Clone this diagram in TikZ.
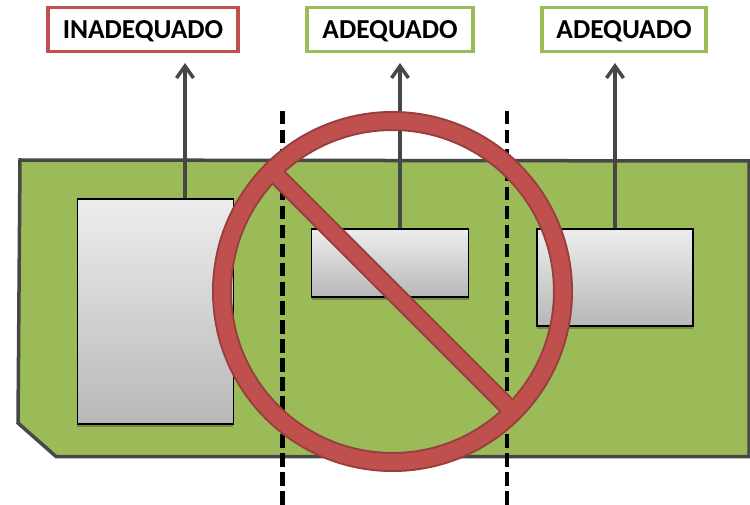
\documentclass[tikz,border=0pt]{standalone}
\usepackage{fontspec}
\setmainfont{Carlito}
\usetikzlibrary{arrows.meta,shadows}

\begin{document}
\begin{tikzpicture}[x=1pt, y=-1pt,
  every node/.style = {shape=rectangle, align=center, inner sep=0pt},
  tag/.style = {fill=white, line width=3.5pt, minimum height=44pt, text depth=0pt,
    font=\fontsize{27.4}{27.4}\selectfont\bfseries},
  chip/.style = {draw=black, line width=1.2pt,
    top color=black!7, bottom color=black!28,
    drop shadow={shadow xshift=0pt, shadow yshift=-2.5pt, opacity=.25, fill=black}},
  lead/.style = {draw=black!72, line width=3.5pt,
    -{Straight Barb[length=12pt, width=17pt, line width=3.5pt]}},
  cut/.style = {draw=black, line width=4.5pt, dash pattern=on 13.5pt off 5.5pt}]
  \definecolor{tagred}{HTML}{C0504D}
  \definecolor{taggreen}{HTML}{9BBB59}
  \definecolor{signedge}{HTML}{983F3D}
  \useasboundingbox (0,0) rectangle (750,505);

  % board
  \draw[fill=taggreen, draw=black!72, line width=3.5pt]
    (20,160) -- (749,161) -- (749,456.5) -- (56,456.5) -- (18,423) -- cycle;

  % labels
  \node[tag, draw=tagred, minimum width=190pt] (inad) at (143,29.5) {INADEQUADO};
  \node[tag, draw=taggreen, minimum width=166pt] (adeqa) at (390,29.5) {ADEQUADO};
  \node[tag, draw=taggreen, minimum width=164pt] (adeqb) at (624,29.5) {ADEQUADO};

  % arrow ends
  \coordinate (tipa) at (185,63);
  \coordinate (tipb) at (400,63);
  \coordinate (tipc) at (615,63);

  % chips
  \node[chip, minimum width=156pt, minimum height=225pt] (chipa) at (155.25,311.5) {};
  \node[chip, minimum width=157pt, minimum height=68pt] (chipb) at (390.25,263) {};
  \node[chip, minimum width=156pt, minimum height=97pt] (chipc) at (615,277.5) {};

  \draw[lead] (tipa |- chipa.north) -- (tipa);
  \draw[lead] (tipb |- chipb.north) -- (tipb);
  \draw[lead] (tipc |- chipc.north) -- (tipc);

  % cut lines
  \coordinate (cuta) at (282.5,111);
  \coordinate (cutb) at (507,111);
  \draw[cut] (cuta) -- (282.5,505);
  \draw[cut] (cutb) -- (507,505);

  % sign
  \coordinate (mid) at (392.5,291.5);
  \coordinate (bara) at (277,176);
  \coordinate (barb) at (508,407);
  \draw[signedge, line width=20pt] (mid) circle[radius=170.5];
  \draw[signedge, line width=19pt] (bara) -- (barb);
  \draw[tagred, line width=16pt] (mid) circle[radius=170.5];
  \draw[tagred, line width=15pt] (bara) -- (barb);
\end{tikzpicture}
\end{document}
